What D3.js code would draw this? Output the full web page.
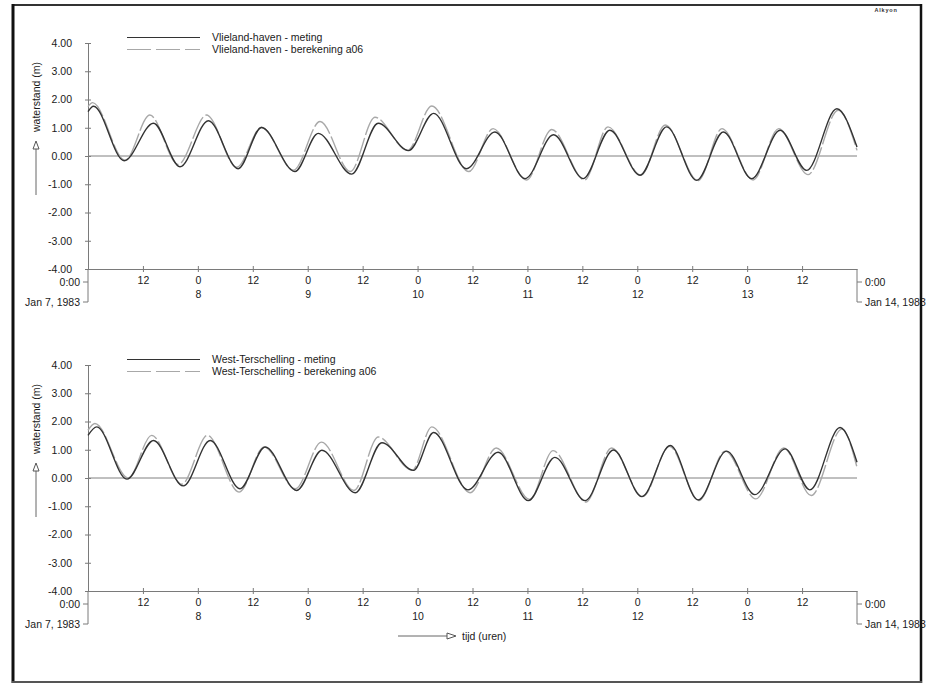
<!DOCTYPE html>
<html>
<head>
<meta charset="utf-8">
<script src="https://cdn.jsdelivr.net/npm/d3@7"></script>
<style>
  body { margin: 0; background: #fff; }
  svg { display: block; font-family: "Liberation Sans", Arial, sans-serif; }
  .axis path, .axis line { stroke: #7a7a7a; stroke-width: 1; }
  .axis text { fill: #1a1a1a; font-size: 10.5px; }
  .lbl { fill: #1a1a1a; font-size: 10.5px; }
</style>
</head>
<body>
<div id="chart"></div>
<script>

// Hours after Jan 7, 1983 0:00 and water level (m), read at the turning points
var vlielandMeting = [
  [0, 1.57], [1.2, 1.76], [7.9, -0.17], [14.3, 1.16], [20.1, -0.38], [26.3, 1.25],
  [32.8, -0.45], [37.9, 1.01], [45.2, -0.55], [50.3, 0.80], [57.6, -0.64], [63.4, 1.16],
  [70.0, 0.19], [75.5, 1.51], [82.7, -0.45], [88.9, 0.85], [95.5, -0.80], [101.7, 0.75],
  [108.2, -0.80], [114.0, 0.91], [120.6, -0.68], [126.4, 1.03], [133.0, -0.86], [138.8, 0.85],
  [145.0, -0.80], [151.2, 0.91], [157.0, -0.51], [163.6, 1.67], [168, 0.32]
];

var vlielandBerekening = [
  [0, 1.75], [1.0, 1.89], [8.1, -0.15], [13.5, 1.45], [19.7, -0.30], [25.9, 1.45],
  [32.5, -0.40], [37.9, 1.02], [44.9, -0.50], [50.7, 1.22], [57.3, -0.55], [62.7, 1.37],
  [69.8, 0.20], [75.1, 1.77], [83.2, -0.55], [88.5, 0.97], [95.8, -0.85], [101.3, 0.94],
  [108.5, -0.85], [113.6, 1.03], [120.8, -0.68], [126.1, 1.10], [133.3, -0.88], [138.5, 0.97],
  [145.3, -0.85], [150.9, 0.97], [157.3, -0.66], [163.9, 1.62], [168, 0.20]
];

var terschellingMeting = [
  [0, 1.51], [1.9, 1.81], [8.5, -0.04], [14.3, 1.33], [20.8, -0.28], [26.7, 1.33],
  [33.2, -0.38], [38.7, 1.10], [45.6, -0.44], [51.1, 0.98], [58.4, -0.52], [64.2, 1.25],
  [71.1, 0.27], [75.5, 1.61], [83.0, -0.42], [89.6, 0.91], [96.2, -0.80], [102.0, 0.73],
  [108.6, -0.80], [114.8, 0.99], [121.0, -0.66], [127.2, 1.15], [133.3, -0.78], [139.5, 0.95],
  [145.7, -0.59], [152.3, 1.03], [157.7, -0.42], [164.3, 1.79], [168, 0.56]
];

var terschellingBerekening = [
  [0, 1.69], [1.5, 1.93], [8.8, 0.00], [13.9, 1.51], [20.5, -0.22], [26.1, 1.51],
  [33.0, -0.50], [38.5, 1.10], [45.3, -0.38], [51.0, 1.27], [58.1, -0.44], [63.4, 1.45],
  [70.8, 0.27], [75.1, 1.81], [83.5, -0.52], [89.2, 1.06], [96.5, -0.76], [101.6, 0.97],
  [108.8, -0.85], [114.4, 1.06], [121.2, -0.66], [127.0, 1.12], [133.5, -0.80], [139.2, 0.95],
  [145.9, -0.74], [152.0, 1.06], [158.0, -0.62], [164.7, 1.73], [168, 0.38]
];

// Tick values and labels
var tickHours = [12, 24, 36, 48, 60, 72, 84, 96, 108, 120, 132, 144, 156];
var dayNumbers = ['8', '9', '10', '11', '12', '13'];
var yTicks = [-4, -3, -2, -1, 0, 1, 2, 3, 4];
var startLabels = ['0:00', 'Jan 7, 1983'];
var endLabels = ['0:00', 'Jan 14, 1983'];

var W = 928, H = 684;

var svg = d3.select('#chart').append('svg')
  .attr('width', W)
  .attr('height', H);

// Setup x scale (hours)
var x = d3.scaleLinear()
  .domain([0, 168])
  .range([88, 857]);

var drawPanel = function(cfg) {

  var top = cfg.top, bottom = cfg.bottom;

  var y = d3.scaleLinear()
    .domain([-4, 4])
    .range([bottom, top]);

  var g = svg.append('g');

  // y axis
  var yAxis = d3.axisLeft(y)
    .tickValues(yTicks)
    .tickSizeInner(3)
    .tickSizeOuter(0)
    .tickPadding(13)
    .tickFormat(function(d){ return d.toFixed(2); });

  g.append('g')
    .attr('class', 'axis')
    .attr('transform', 'translate(' + x(0) + ',0)')
    .call(yAxis)
    .call(function(s){ s.selectAll('.tick line').attr('x2', 3).attr('x1', -3); });

  // x axis
  var xAxis = d3.axisBottom(x)
    .tickValues(tickHours)
    .tickSizeInner(3)
    .tickSizeOuter(0)
    .tickPadding(5)
    .tickFormat(function(d){ return (d % 24 === 0) ? '0' : '12'; });

  var xg = g.append('g')
    .attr('class', 'axis')
    .attr('transform', 'translate(0,' + bottom + ')')
    .call(xAxis);

  xg.selectAll('.tick line').attr('y1', -3);

  xg.selectAll('.tick')
    .filter(function(d){ return d % 24 === 0; })
    .append('text')
      .attr('y', 22)
      .attr('dy', '0.71em')
      .text(function(d){ return dayNumbers[d / 24 - 1]; });

  // start / end date markers
  [[0, startLabels, -1], [168, endLabels, 1]].forEach(function(m){
    var px = x(m[0]);
    g.append('line')
      .attr('x1', px).attr('x2', px)
      .attr('y1', bottom).attr('y2', bottom + 33)
      .attr('stroke', '#7a7a7a');
    [13, 33].forEach(function(off, i){
      g.append('line')
        .attr('x1', px).attr('x2', px + m[2] * 5)
        .attr('y1', bottom + off).attr('y2', bottom + off)
        .attr('stroke', '#7a7a7a');
      g.append('text')
        .attr('class', 'lbl')
        .attr('x', px + m[2] * 8)
        .attr('y', bottom + off)
        .attr('dy', '0.35em')
        .attr('text-anchor', m[2] < 0 ? 'end' : 'start')
        .text(m[1][i]);
    });
  });

  // zero line
  g.append('line')
    .attr('x1', x(0)).attr('x2', x(168))
    .attr('y1', y(0)).attr('y2', y(0))
    .attr('stroke', '#808080');

  // y axis title with arrow
  g.append('text')
    .attr('class', 'lbl')
    .attr('transform', 'translate(40,' + (top + 54) + ') rotate(-90)')
    .attr('text-anchor', 'middle')
    .text('waterstand (m)');

  g.append('line')
    .attr('x1', 36).attr('x2', 36)
    .attr('y1', top + 106).attr('y2', top + 152)
    .attr('stroke', '#666');
  g.append('path')
    .attr('d', 'M36,' + (top + 98) + 'L39,' + (top + 106) + 'L33,' + (top + 106) + 'Z')
    .attr('fill', '#fff')
    .attr('stroke', '#555');

  // Draw lines
  var line = d3.line()
    .x(function(d){ return x(d[0]); })
    .y(function(d){ return y(d[1]); })
    .curve(d3.curveMonotoneX);

  g.append('path')
    .datum(cfg.berekening)
    .attr('d', line)
    .attr('fill', 'none')
    .attr('stroke', '#a8a8a8')
    .attr('stroke-width', 1.4)
    .attr('stroke-dasharray', '24,3');

  g.append('path')
    .datum(cfg.meting)
    .attr('d', line)
    .attr('fill', 'none')
    .attr('stroke', '#333')
    .attr('stroke-width', 1.4);

  // legend
  var legend = [
    {dy: -5.5, name: cfg.name + ' - meting', color: '#333', dash: null},
    {dy: 6.5, name: cfg.name + ' - berekening a06', color: '#a8a8a8', dash: '24,5'}
  ];
  legend.forEach(function(l){
    g.append('line')
      .attr('x1', 127).attr('x2', 200)
      .attr('y1', top + l.dy).attr('y2', top + l.dy)
      .attr('stroke', l.color)
      .attr('stroke-width', 1.2)
      .attr('stroke-dasharray', l.dash);
    g.append('text')
      .attr('class', 'lbl')
      .attr('x', 212)
      .attr('y', top + l.dy)
      .attr('dy', '0.35em')
      .text(l.name);
  });
};

drawPanel({top: 43, bottom: 269, name: 'Vlieland-haven',
  meting: vlielandMeting, berekening: vlielandBerekening});

drawPanel({top: 365, bottom: 591, name: 'West-Terschelling',
  meting: terschellingMeting, berekening: terschellingBerekening});

// time axis title
svg.append('line')
  .attr('x1', 398).attr('x2', 447)
  .attr('y1', 636).attr('y2', 636)
  .attr('stroke', '#666');
svg.append('path')
  .attr('d', 'M456,636L447,633L447,639Z')
  .attr('fill', '#fff')
  .attr('stroke', '#555');
svg.append('text')
  .attr('class', 'lbl')
  .attr('x', 462)
  .attr('y', 636)
  .attr('dy', '0.35em')
  .text('tijd (uren)');

// stamp
svg.append('text')
  .attr('x', 886)
  .attr('y', 12)
  .attr('text-anchor', 'middle')
  .attr('font-size', 5.5)
  .attr('font-weight', 'bold')
  .attr('letter-spacing', 0.8)
  .attr('fill', '#333')
  .text('Alkyon');

// frame
svg.append('line').attr('x1', 12).attr('x2', 922).attr('y1', 5).attr('y2', 5)
  .attr('stroke', '#333').attr('stroke-width', 2);
svg.append('line').attr('x1', 13).attr('x2', 13).attr('y1', 4).attr('y2', 683)
  .attr('stroke', '#111').attr('stroke-width', 3);
svg.append('line').attr('x1', 921).attr('x2', 921).attr('y1', 4).attr('y2', 683)
  .attr('stroke', '#111').attr('stroke-width', 2.5);
svg.append('line').attr('x1', 12).attr('x2', 922).attr('y1', 682).attr('y2', 682)
  .attr('stroke', '#555').attr('stroke-width', 2);

</script>
</body>
</html>
